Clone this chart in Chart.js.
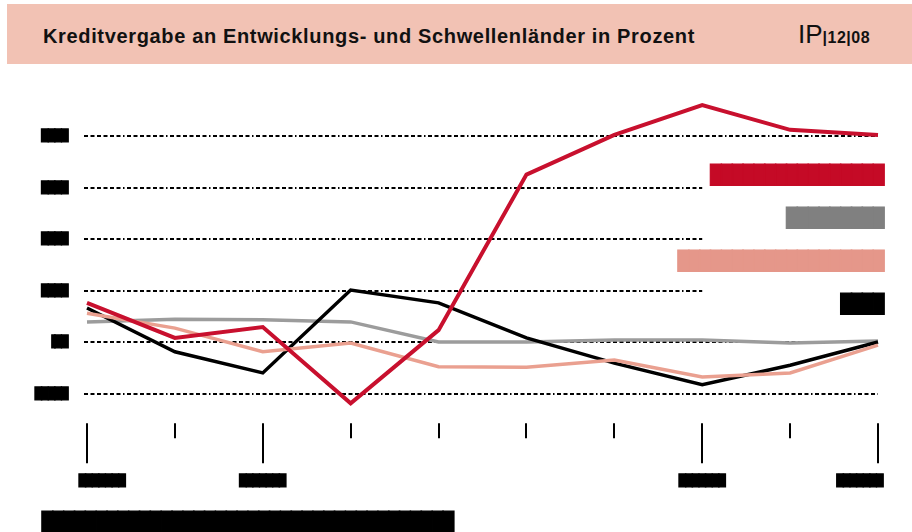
<!DOCTYPE html>
<html lang="de">
<head>
<meta charset="utf-8">
<title>Kreditvergabe an Entwicklungs- und Schwellenländer in Prozent</title>
<script src="https://cdn.jsdelivr.net/npm/chart.js@4.4.1/dist/chart.umd.min.js"></script>
<style>
  html, body { margin: 0; padding: 0; background: #fff; }
  #wrap { position: relative; width: 912px; height: 532px; overflow: hidden; }
  #kopf { position: absolute; left: 7px; top: 4px; width: 905px; height: 60px; background: #f2c2b4;
          font-family: "Liberation Sans", Arial, sans-serif; color: #111; }
  #titel { position: absolute; left: 36px; top: 22px; font-size: 20px; line-height: 20px; font-weight: bold;
           letter-spacing: 0.65px; white-space: nowrap; }
  #ausgabe { position: absolute; left: 791px; top: 17px; line-height: 26px; white-space: nowrap; }
  #ausgabe .ip { font-size: 26px; }
  #ausgabe .nr { font-size: 16px; font-weight: bold; letter-spacing: 0.5px; }
  canvas { position: absolute; left: 0; top: 0; }
</style>
</head>
<body>
<div id="wrap">
  <canvas id="grafik" width="912" height="532"></canvas>
  <div id="kopf">
    <div id="titel">Kreditvergabe an Entwicklungs- und Schwellenländer in Prozent</div>
    <div id="ausgabe"><span class="ip">IP</span><span class="nr">|12|08</span></div>
  </div>
</div>
<script>
// Daten (die Beschriftungen sind im Original geschwärzt)
const kategorien = ['███████', '', '███████', '', '', '', '', '███████', '', '███████'];
const rot     = [7.6, 0.8, 2.9, -11.9, 2.3, 32.5, 40.2, 46.0, 41.2, 40.2];
const grau    = [3.9, 4.4, 4.3, 3.9, 0.0, 0.0, 0.4, 0.4, -0.2, 0.2];
const lachs   = [5.6, 2.7, -1.9, -0.2, -4.8, -4.9, -3.5, -6.8, -6.0, -0.6];
const schwarz = [6.6, -1.9, -6.0, 10.1, 7.6, 0.8, -4.1, -8.3, -4.5, 0.0];
const yWerte  = [40, 30, 20, 10, 0, -10];
const yBeschriftung = ['████', '████', '████', '████', '▐██', '█████'];
const legendeTexte = ['████████████████', '█████████', '███████████████████', '████'];
const quelle = '██████████████████████████████████████';

const BLOCK = '"DejaVu Sans Mono"';

function blockText(ctx, text, x, y, size, farbe, align) {
    ctx.save();
    ctx.font = size + 'px ' + BLOCK;
    ctx.fillStyle = farbe;
    ctx.strokeStyle = farbe;
    ctx.lineWidth = 1.2;
    ctx.textAlign = align;
    ctx.textBaseline = 'middle';
    ctx.fillText(text, x, y);
    ctx.strokeText(text, x, y); // schließt die Fugen zwischen den Blöcken
    ctx.restore();
}

// Raster, Achsen, Legende und Quelle selbst zeichnen
const zeichner = {
    id: 'zeichner',
    beforeDatasetsDraw(chart) {
        const ctx = chart.ctx;
        const x = chart.scales.x;
        const y = chart.scales.y;
        const links = chart.chartArea.left - 3;
        const rechts = chart.chartArea.right;
        const kurz = x.getPixelForValue(7);
        ctx.save();
        ctx.strokeStyle = '#000';
        ctx.lineWidth = 2;
        ctx.setLineDash([4, 2.5, 4, 2.5, 4, 2.5, 4, 2.5, 4, 2.5, 4, 2.5, 1.5, 2.5]);
        yWerte.forEach(v => {
            const py = Math.round(y.getPixelForValue(v));
            // Linien hinter der Legende enden früher
            const ende = (py > 160 && py < 320) ? kurz : rechts;
            ctx.beginPath();
            ctx.moveTo(links, py);
            ctx.lineTo(ende, py);
            ctx.stroke();
        });
        ctx.restore();
    },
    afterDraw(chart) {
        const ctx = chart.ctx;
        const x = chart.scales.x;
        const y = chart.scales.y;
        const unten = chart.chartArea.bottom;

        // y-Beschriftung
        yWerte.forEach((v, i) => {
            blockText(ctx, yBeschriftung[i], 68, y.getPixelForValue(v) + 0.5, 11, '#000', 'right');
        });

        // x-Striche und Beschriftung
        ctx.save();
        ctx.strokeStyle = '#000';
        ctx.lineWidth = 2;
        kategorien.forEach((k, i) => {
            const px = Math.round(x.getPixelForValue(i));
            ctx.beginPath();
            ctx.moveTo(px, unten + 4);
            ctx.lineTo(px, unten + (k ? 44 : 19));
            ctx.stroke();
        });
        ctx.restore();
        kategorien.forEach((k, i) => {
            if (!k) return;
            const px = x.getPixelForValue(i);
            let align = 'center', dx = 0;
            if (i === 0) { align = 'left'; dx = -8; }
            if (i === kategorien.length - 1) { align = 'right'; dx = 5; }
            blockText(ctx, k, px + dx, unten + 62, 11, '#000', align);
        });

        // Legende rechts
        chart.data.datasets.forEach((ds, i) => {
            blockText(ctx, legendeTexte[i], 884, 176 + i * 43, 18, ds.legendFarbe, 'right');
        });

        // Quelle
        blockText(ctx, quelle, 42, 523, 18, '#000', 'left');
    }
};

new Chart(document.getElementById('grafik'), {
    type: 'line',
    data: {
        labels: kategorien,
        datasets: [
            { data: rot, borderColor: '#c8102e', legendFarbe: '#c50a26', borderWidth: 4, order: 0 },
            { data: grau, borderColor: '#9c9c9c', legendFarbe: '#808080', borderWidth: 3.5, order: 3 },
            { data: lachs, borderColor: '#eaa090', legendFarbe: '#e5978a', borderWidth: 3.5, order: 1 },
            { data: schwarz, borderColor: '#000000', legendFarbe: '#000000', borderWidth: 3.5, order: 2 }
        ]
    },
    options: {
        responsive: false,
        animation: false,
        layout: { padding: { left: 87, right: 34, top: 84.5, bottom: 112.75 } },
        elements: { point: { radius: 0 }, line: { tension: 0, borderJoinStyle: 'miter' } },
        scales: {
            x: { display: false },
            y: { display: false, min: -15, max: 50 }
        },
        plugins: { legend: { display: false }, tooltip: { enabled: false } }
    },
    plugins: [zeichner]
});
</script>
</body>
</html>
